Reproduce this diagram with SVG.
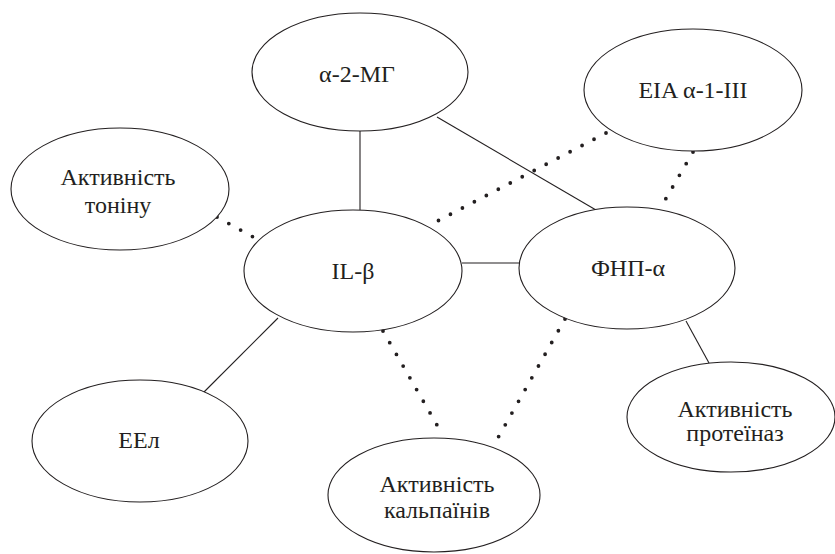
<svg xmlns="http://www.w3.org/2000/svg" width="835" height="554" viewBox="0 0 835 554">
<style>
.n ellipse{fill:#fff;stroke:#231f20;stroke-width:1.1}
.n text{font-family:'Liberation Serif','DejaVu Serif','Times New Roman',serif;font-size:24px;fill:#231f20;text-anchor:middle}
.solid{stroke:#231f20;stroke-width:1.1;fill:none}
.dot{stroke:#231f20;stroke-width:3.8;stroke-linecap:round;stroke-dasharray:0 13.5;fill:none}
</style>
<rect width="835" height="554" fill="#fff"/>
<g id="connectors">
<line class="solid" x1="360" y1="130" x2="360" y2="210"/>
<line class="solid" x1="437" y1="117" x2="596" y2="210"/>
<line class="solid" x1="462" y1="263" x2="521" y2="263"/>
<line class="solid" x1="278" y1="318" x2="204" y2="392"/>
<line class="solid" x1="686" y1="321" x2="709" y2="363"/>
<line class="dot" x1="606" y1="133" x2="428" y2="226"/>
<line class="dot" x1="693" y1="152" x2="661" y2="207"/>
<line class="dot" x1="217" y1="217" x2="255" y2="238"/>
<line class="dot" x1="383" y1="331" x2="441" y2="432"/>
<line class="dot" x1="565" y1="319" x2="495" y2="443"/>
</g>
<g id="n-a2mg" class="n" font-family="Liberation Serif, serif"><ellipse cx="360" cy="72" rx="108" ry="59"/><text x="357" y="82">α-2-МГ</text></g>
<g id="n-eia" class="n" font-family="Liberation Serif, serif"><ellipse cx="693" cy="90" rx="109" ry="61"/><text x="693" y="98">EIA α-1-III</text></g>
<g id="n-tonin" class="n" font-family="Liberation Serif, serif"><ellipse cx="120" cy="189" rx="109" ry="61"/><text x="118" y="185">Активність</text><text x="118" y="213">тоніну</text></g>
<g id="n-ilb" class="n" font-family="Liberation Serif, serif"><ellipse cx="353" cy="271" rx="109" ry="61"/><text x="353" y="279">IL-β</text></g>
<g id="n-fnp" class="n" font-family="Liberation Serif, serif"><ellipse cx="627" cy="268" rx="108" ry="61"/><text x="628" y="276">ФНП-α</text></g>
<g id="n-eel" class="n" font-family="Liberation Serif, serif"><ellipse cx="140" cy="441" rx="108" ry="61"/><text x="139" y="448">ЕЕл</text></g>
<g id="n-kalp" class="n" font-family="Liberation Serif, serif"><ellipse cx="434" cy="495" rx="106" ry="57"/><text x="437" y="492">Активність</text><text x="437" y="518">кальпаїнів</text></g>
<g id="n-prot" class="n" font-family="Liberation Serif, serif"><ellipse cx="731" cy="417" rx="104" ry="55"/><text x="735" y="417">Активність</text><text x="735" y="441">протеїназ</text></g>
</svg>
